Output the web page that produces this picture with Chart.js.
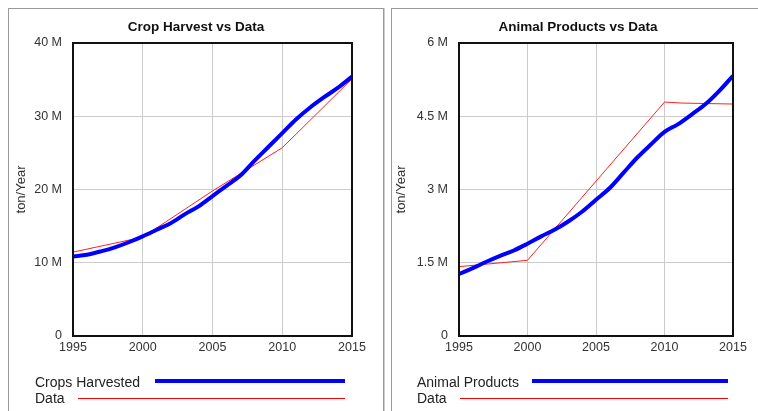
<!DOCTYPE html>
<html lang="en">
<head>
    <meta charset="UTF-8">
    <title>Crop Harvest / Animal Products vs Data</title>
    <script src="https://cdn.jsdelivr.net/npm/chart.js"></script>
    <style>
        body { margin: 0; background: #fff; width: 758px; height: 411px; overflow: hidden; position: relative; font-family: "Liberation Sans", Arial, sans-serif; }
        .panel { position: absolute; top: 8px; height: 420px; border: 1px solid #9a9a9a; box-sizing: border-box; }
        #panelLeft { left: 8px; width: 376px; box-shadow: 1px 0 0 #cfcfcf; }
        #panelRight { left: 391px; width: 400px; }
        canvas { position: absolute; top: 0; }
        .title { position: absolute; top: 18px; font-weight: bold; font-size: 13.5px; color: #111; text-align: center; line-height: 18px; }
        .legend { position: absolute; font-size: 14px; color: #222; line-height: 16px; }
        .swatch { position: absolute; }
    </style>
</head>
<body>
    <div class="panel" id="panelLeft"></div>
    <div class="panel" id="panelRight"></div>

    <canvas id="cropChart" style="left:0px" width="380" height="411"></canvas>
    <canvas id="animalChart" style="left:380px" width="378" height="411"></canvas>

    <div class="title" style="left:8px;width:376px">Crop Harvest vs Data</div>
    <div class="title" style="left:391px;width:374px">Animal Products vs Data</div>

    <div class="legend" style="left:35px;top:374px">Crops Harvested</div>
    <div class="swatch" style="left:155px;top:379px;width:190px;height:4px;background:#0000ff"></div>
    <div class="legend" style="left:35px;top:390px">Data</div>
    <div class="swatch" style="left:78px;top:398px;width:267px;height:1px;background:#ff0000"></div>

    <div class="legend" style="left:417px;top:374px">Animal Products</div>
    <div class="swatch" style="left:532px;top:379px;width:196px;height:4px;background:#0000ff"></div>
    <div class="legend" style="left:417px;top:390px">Data</div>
    <div class="swatch" style="left:460px;top:398px;width:268px;height:1px;background:#ff0000"></div>

    <script>
        // モデル結果 (年ごと, 単位 M ton/Year)
        const modelYears = [1995, 1996, 1997, 1998, 1999, 2000, 2001, 2002, 2003, 2004, 2005,
                            2006, 2007, 2008, 2009, 2010, 2011, 2012, 2013, 2014, 2015];
        const cropsHarvested = [10.86, 11.1, 11.55, 12.1, 12.8, 13.6, 14.5, 15.4, 16.6, 17.7, 19.1,
                                20.5, 21.9, 23.9, 25.8, 27.7, 29.6, 31.2, 32.6, 33.9, 35.4];
        const animalProducts = [1.27, 1.39, 1.52, 1.64, 1.75, 1.89, 2.04, 2.18, 2.35, 2.55, 2.79,
                                3.03, 3.34, 3.65, 3.92, 4.18, 4.34, 4.54, 4.75, 5.02, 5.33];

        // 実データ
        const cropDataYears = [1995, 2000, 2005, 2010, 2015];
        const cropData = [11.45, 13.5, 19.8, 25.7, 35.1];
        const animalDataYears = [1995, 2000, 2010, 2011.3, 2015];
        const animalData = [1.42, 1.55, 4.79, 4.77, 4.75];

        const xTicks = [1995, 2000, 2005, 2010, 2015];
        const cropTicks = [0, 10, 20, 30, 40];
        const animalTicks = [0, 1.5, 3, 4.5, 6];

        function toPoints(xs, ys) {
            return xs.map((x, i) => ({ x: x, y: ys[i] * 1e6 }));
        }

        // プロット枠を黒で描く
        const frame = {
            id: 'frame',
            afterDatasetsDraw(chart) {
                const a = chart.chartArea;
                const ctx = chart.ctx;
                ctx.save();
                ctx.strokeStyle = '#111';
                ctx.lineWidth = 2;
                ctx.strokeRect(a.left, a.top, a.right - a.left, a.bottom - a.top);
                ctx.restore();
            }
        };

        function makeChart(id, model, data, ticks, pad, yWidth, titlePad) {
            return new Chart(document.getElementById(id), {
                type: 'line',
                data: {
                    datasets: [{
                        data: toPoints(modelYears, model),
                        borderColor: '#0000ff',
                        borderWidth: 4,
                        pointRadius: 0,
                        cubicInterpolationMode: 'monotone'
                    }, {
                        data: toPoints(data[0], data[1]),
                        borderColor: '#ff2020',
                        borderWidth: 1,
                        pointRadius: 0,
                        tension: 0
                    }]
                },
                options: {
                    responsive: false,
                    animation: false,
                    events: [],
                    layout: { padding: pad },
                    plugins: { legend: { display: false }, tooltip: { enabled: false }, title: { display: false } },
                    scales: {
                        x: {
                            type: 'linear',
                            min: xTicks[0],
                            max: xTicks[xTicks.length - 1],
                            afterBuildTicks: s => { s.ticks = xTicks.map(v => ({ value: v })); },
                            afterFit: s => { s.height = 75; },
                            grid: { color: '#cccccc', drawTicks: false },
                            border: { display: false },
                            ticks: {
                                padding: 4,
                                color: '#333',
                                font: { family: 'Liberation Sans', size: 12.5 },
                                callback: v => String(v)
                            }
                        },
                        y: {
                            min: 0,
                            max: ticks[ticks.length - 1] * 1e6,
                            afterBuildTicks: s => { s.ticks = ticks.map(v => ({ value: v * 1e6 })); },
                            afterFit: s => { s.width = yWidth; },
                            grid: { color: '#cccccc', drawTicks: false },
                            border: { display: false },
                            title: {
                                display: true,
                                text: 'ton/Year',
                                color: '#333',
                                padding: { top: titlePad, bottom: 0 },
                                font: { family: 'Liberation Sans', size: 13 }
                            },
                            ticks: {
                                padding: 11,
                                color: '#333',
                                font: { family: 'Liberation Sans', size: 12.5 },
                                callback: v => v === 0 ? '0' : (v / 1e6) + ' M'
                            }
                        }
                    }
                },
                plugins: [frame]
            });
        }

        makeChart('cropChart', cropsHarvested, [cropDataYears, cropData], cropTicks,
                  { left: 8, right: 28, top: 43, bottom: 0 }, 65, 6);
        makeChart('animalChart', animalProducts, [animalDataYears, animalData], animalTicks,
                  { left: 11, right: 25, top: 43, bottom: 0 }, 68, 3);
    </script>
</body>
</html>
